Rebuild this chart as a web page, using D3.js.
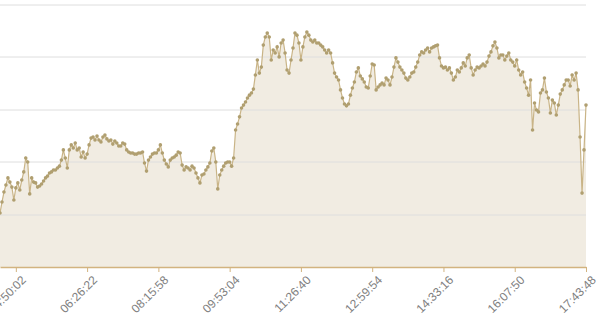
<!DOCTYPE html>
<html>
<head>
<meta charset="utf-8">
<script src="https://cdn.jsdelivr.net/npm/d3@7"></script>
<style>
  body { margin: 0; background: #fff; }
  svg { display: block; }
</style>
</head>
<body>
<div id="chart"></div>
<script>
// values, one per sample (scale 0..100, no labels shown)
var values = [
  20.6, 24.8, 28.6, 31.3, 34.0, 32.4, 30.5, 25.6, 30.2, 32.1,
  29.4, 33.2, 36.3, 41.6, 40.1, 27.9, 34.0, 32.4, 32.1, 30.5,
  30.9, 31.7, 32.8, 34.0, 34.7, 35.9, 36.3, 37.0, 37.0, 37.8,
  38.5, 40.8, 44.7, 41.6, 37.8, 44.7, 46.6, 45.4, 47.3, 44.7,
  45.4, 42.0, 43.9, 41.6, 43.1, 46.6, 49.2, 49.6, 48.5, 50.0,
  48.5, 47.7, 49.6, 50.4, 48.9, 48.1, 48.5, 46.9, 48.1, 47.3,
  46.2, 46.2, 47.3, 46.9, 44.7, 43.9, 43.5, 43.5, 43.1, 43.1,
  43.5, 43.5, 43.9, 39.7, 36.6, 40.8, 42.0, 43.1, 43.5, 43.5,
  44.7, 46.6, 43.5, 40.8, 39.3, 38.2, 40.8, 41.6, 42.0, 42.7,
  43.9, 43.5, 38.9, 37.0, 38.2, 37.8, 37.0, 38.5, 37.8, 35.9,
  34.0, 32.1, 35.1, 35.5, 37.0, 38.2, 39.7, 44.3, 45.4, 40.1,
  29.8, 35.1, 37.0, 38.5, 39.7, 40.1, 40.1, 38.5, 41.6, 52.3,
  54.6, 57.3, 60.7, 61.8, 63.0, 64.5, 65.6, 66.4, 67.9, 73.3,
  79.0, 74.0, 76.3, 84.7, 87.8, 89.3, 87.8, 79.0, 82.8, 81.7,
  84.0, 80.2, 85.5, 86.6, 81.7, 75.2, 74.0, 79.0, 83.6, 89.3,
  88.5, 85.5, 79.0, 84.0, 87.8, 89.7, 88.5, 86.6, 85.9, 86.6,
  85.5, 85.5, 84.7, 84.0, 82.8, 81.7, 82.8, 81.7, 77.9, 74.0,
  72.5, 71.4, 67.6, 64.5, 62.2, 61.5, 62.2, 65.6, 68.3, 70.6,
  74.4, 76.0, 72.9, 71.8, 70.6, 68.7, 68.3, 72.9, 77.5, 77.1,
  67.6, 68.7, 69.5, 70.2, 69.5, 72.1, 71.4, 69.5, 72.5, 76.3,
  79.8, 78.2, 76.3, 75.2, 74.0, 72.1, 71.4, 72.5, 74.0, 74.4,
  76.3, 78.2, 80.9, 82.1, 81.7, 82.8, 83.6, 82.1, 83.6, 84.0,
  84.4, 84.7, 79.8, 76.7, 76.0, 76.3, 75.2, 76.0, 74.0, 71.4,
  72.5, 75.2, 74.4, 76.0, 77.9, 76.7, 79.8, 80.9, 76.0, 73.3,
  75.2, 76.3, 76.0, 76.7, 77.5, 76.7, 78.2, 80.5, 82.1, 84.4,
  85.9, 83.6, 79.8, 80.9, 80.9, 79.0, 80.5, 81.7, 79.0, 78.2,
  76.7, 79.0, 75.2, 73.3, 74.4, 70.6, 68.3, 65.6, 71.4, 52.3,
  62.6, 59.9, 59.2, 66.4, 67.6, 72.1, 66.8, 64.5, 58.8, 63.7,
  62.6, 58.0, 61.8, 66.0, 67.6, 69.5, 71.4, 71.4, 69.1, 73.3,
  71.4, 74.0, 67.6, 49.6, 28.2, 44.7, 61.8
];

// tick labels, one every 36 samples counting back from the last one
var tickLabels = ["04:50:02", "06:26:22", "08:15:58", "09:53:04", "11:26:40",
  "12:59:54", "14:33:16", "16:07:50", "17:43:48"];
var tickStep = 36;

var gridValues = [0, 20, 40, 60, 80, 100];

var width = 603, height = 329;
var plotRight = 586, plotTop = 5, plotBottom = 267;

var last = values.length - 1;
var tickIdx = tickLabels.map(function(d, i) {
  return last - (tickLabels.length - 1 - i) * tickStep;
});

var x = d3.scaleLinear()
  .domain([0, last])
  .range([0, plotRight]);

var y = d3.scaleLinear()
  .domain([0, 100])
  .range([plotBottom, plotTop]);

var svg = d3.select('#chart').append('svg')
  .attr('width', width)
  .attr('height', height);

var area = d3.area()
  .x(function(d, i) { return x(i); })
  .y0(y(0))
  .y1(function(d) { return y(d); });

var line = d3.line()
  .x(function(d, i) { return x(i); })
  .y(function(d) { return y(d); });

svg.append('path')
  .datum(values)
  .attr('d', area)
  .style('fill', '#f1ece2');

// horizontal grid on top of the area, like the original
svg.append('g')
  .selectAll('line')
  .data(gridValues.slice(1))
  .enter().append('line')
  .attr('x1', 0)
  .attr('x2', plotRight)
  .attr('y1', function(d) { return Math.round(y(d)); })
  .attr('y2', function(d) { return Math.round(y(d)); })
  .style('stroke', '#dedede')
  .style('stroke-width', 1);

svg.append('path')
  .datum(values)
  .attr('d', line)
  .style('fill', 'none')
  .style('stroke', '#c9b487')
  .style('stroke-width', 1.2);

svg.append('g')
  .selectAll('circle')
  .data(values)
  .enter().append('circle')
  .attr('cx', function(d, i) { return x(i); })
  .attr('cy', function(d) { return y(d); })
  .attr('r', 1.8)
  .style('fill', '#b09f70');

var xAxis = d3.axisBottom(x)
  .tickValues(tickIdx)
  .tickFormat(function(d, i) { return tickLabels[i]; })
  .tickSize(5)
  .tickSizeOuter(0);

var gx = svg.append('g')
  .attr('transform', 'translate(0,' + plotBottom + ')')
  .call(xAxis);

gx.select('.domain').style('stroke', '#d2b37f').style('stroke-width', 1.5);
gx.selectAll('.tick line').style('stroke', '#d2b37f');
gx.selectAll('.tick text')
  .style('font-family', 'Liberation Sans, Arial, sans-serif')
  .style('font-size', '12px')
  .style('fill', '#808080')
  .style('text-anchor', 'end')
  .attr('transform', 'rotate(-45)')
  .attr('dx', '-0.2em')
  .attr('dy', '1em')
  .attr('y', 5);
</script>
</body>
</html>
